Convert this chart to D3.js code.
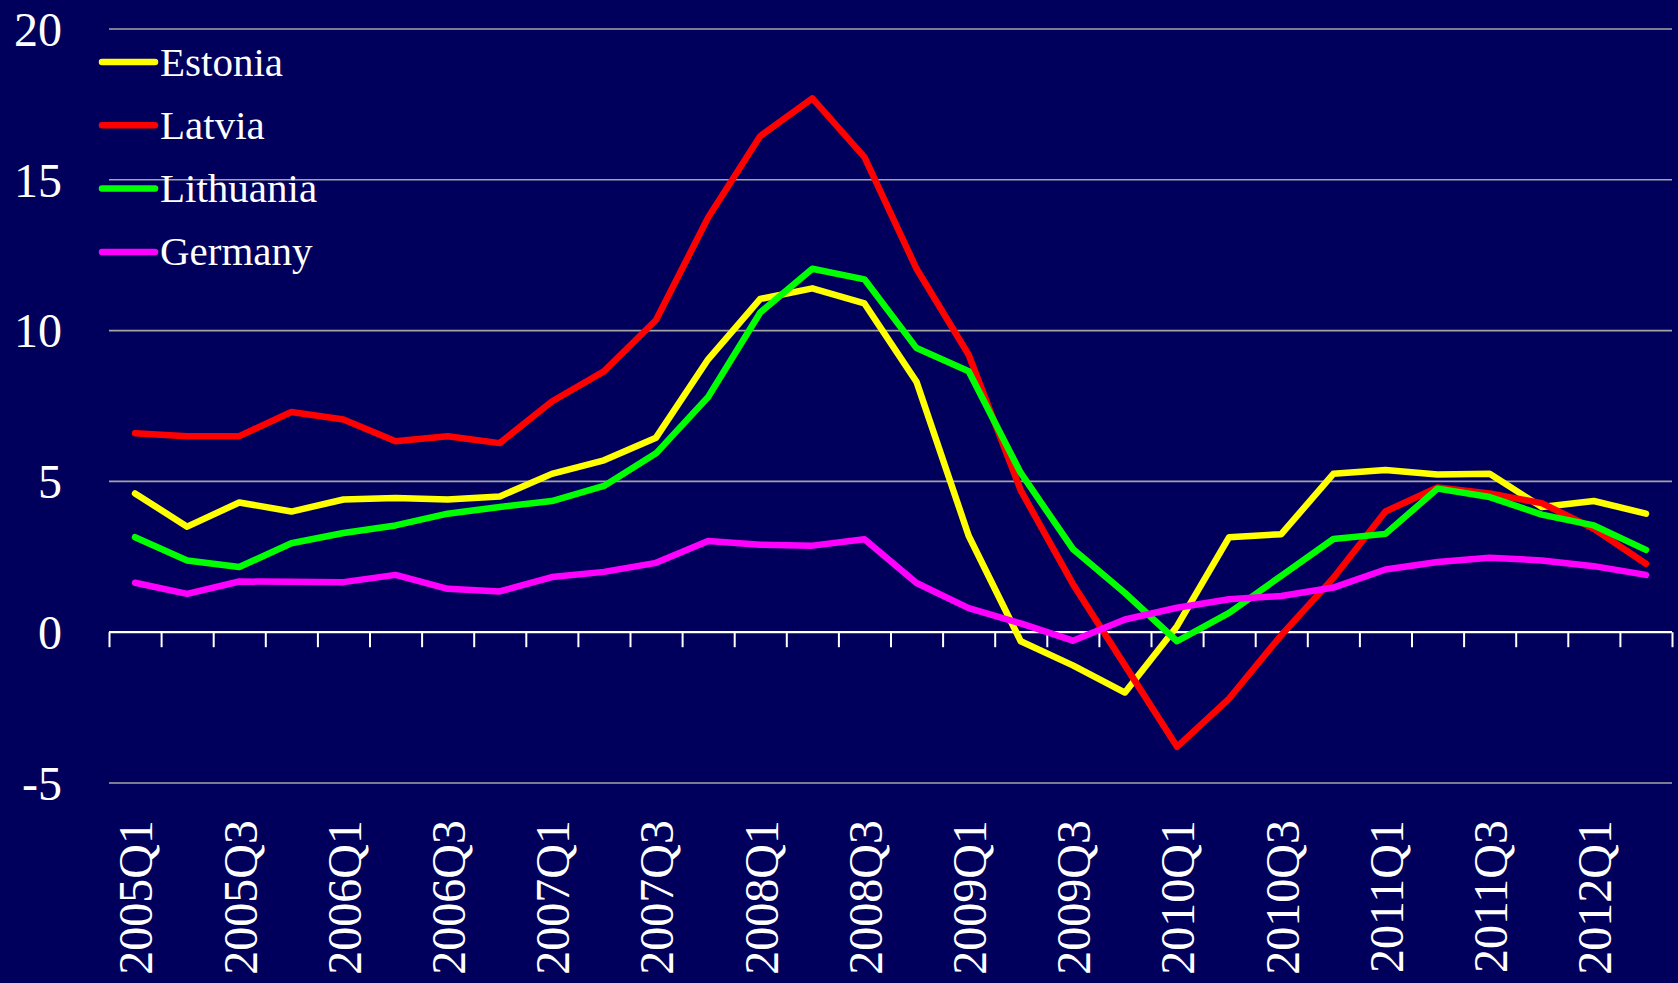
<!DOCTYPE html>
<html>
<head>
<meta charset="utf-8">
<script src="https://cdn.jsdelivr.net/npm/d3@7"></script>
<style>
  html, body { margin: 0; padding: 0; background: #00005c; }
  svg { display: block; }
  text { font-family: "Liberation Serif", "DejaVu Serif", serif; fill: #ffffff; }
</style>
</head>
<body>
<svg id="chart" width="1678" height="983"></svg>
<script>
// Quarterly periods, 2005Q1 – 2012Q2
const quarters = [
  "2005Q1","2005Q2","2005Q3","2005Q4",
  "2006Q1","2006Q2","2006Q3","2006Q4",
  "2007Q1","2007Q2","2007Q3","2007Q4",
  "2008Q1","2008Q2","2008Q3","2008Q4",
  "2009Q1","2009Q2","2009Q3","2009Q4",
  "2010Q1","2010Q2","2010Q3","2010Q4",
  "2011Q1","2011Q2","2011Q3","2011Q4",
  "2012Q1","2012Q2"
];

// Series values
const estonia = [4.6, 3.5, 4.3, 4.0, 4.4, 4.45, 4.4, 4.5, 5.25, 5.7, 6.45, 9.05, 11.05, 11.4, 10.9,
                 8.3, 3.2, -0.3, -1.1, -2.0, 0.2, 3.15, 3.25, 5.25, 5.38, 5.23, 5.25, 4.15, 4.35, 3.93];
const latvia = [6.6, 6.5, 6.5, 7.3, 7.05, 6.33, 6.5, 6.27, 7.65, 8.65, 10.35, 13.75, 16.45, 17.7, 15.75,
                12.05, 9.2, 4.7, 1.6, -1.1, -3.8, -2.2, -0.1, 1.8, 4.0, 4.8, 4.6, 4.28, 3.43, 2.27];
const lithuania = [3.15, 2.38, 2.16, 2.95, 3.29, 3.54, 3.93, 4.15, 4.35, 4.85, 5.93, 7.8, 10.6, 12.05, 11.7,
                   9.42, 8.65, 5.28, 2.76, 1.3, -0.3, 0.64, 1.87, 3.09, 3.26, 4.76, 4.48, 3.9, 3.54, 2.73];
const germany = [1.64, 1.27, 1.68, 1.67, 1.66, 1.9, 1.44, 1.35, 1.83, 2.0, 2.3, 3.02, 2.9, 2.87, 3.08,
                 1.63, 0.8, 0.29, -0.28, 0.42, 0.81, 1.09, 1.2, 1.48, 2.08, 2.33, 2.47, 2.38, 2.19, 1.9];

const seriesNames = ["Estonia", "Latvia", "Lithuania", "Germany"];
const seriesColors = ["#ffff00", "#ff0000", "#00ff00", "#ff00ff"];
const seriesValues = [estonia, latvia, lithuania, germany];

const yTicks = [-5, 0, 5, 10, 15, 20];
const xLabelQuarters = quarters.filter((q, i) => i % 2 === 0);

// Layout
const plotLeft = 109, plotRight = 1672, plotTop = 29, plotBottom = 783;

const svg = d3.select("#chart");
svg.append("rect").attr("width", 1678).attr("height", 983).attr("fill", "#00005c");

const x = d3.scaleBand().domain(quarters).range([plotLeft, plotRight]).padding(0);
const y = d3.scaleLinear().domain([-5, 20]).range([plotBottom, plotTop]);

// Horizontal gridlines (zero line drawn separately as the axis)
svg.append("g")
  .selectAll("line")
  .data(yTicks.filter(v => v !== 0))
  .join("line")
  .attr("x1", plotLeft).attr("x2", plotRight)
  .attr("y1", d => y(d)).attr("y2", d => y(d))
  .attr("stroke", "#a4a4a4").attr("stroke-width", 1.6);

// Y axis labels (plain hyphen for negatives)
const yAxis = d3.axisLeft(y).tickValues(yTicks).tickSize(0).tickPadding(0).tickFormat(d => String(d));
const yG = svg.append("g").attr("transform", "translate(62,0)").call(yAxis);
yG.select(".domain").remove();
yG.selectAll("text")
  .attr("font-family", "Liberation Serif, serif")
  .attr("font-size", 48)
  .attr("fill", "#fff")
  .attr("dy", "0.34em");

// X axis at zero: ticks on quarter boundaries
const xb = d3.scaleLinear().domain([0, quarters.length]).range([plotLeft, plotRight]);
const xTickAxis = d3.axisBottom(xb).tickValues(d3.range(0, quarters.length + 1)).tickSize(15).tickFormat("");
const xG = svg.append("g").attr("transform", `translate(0,${y(0)})`).call(xTickAxis);
xG.select(".domain").attr("stroke", "#fff").attr("stroke-width", 2.2)
  .attr("d", `M${plotLeft},0H${plotRight}`);
xG.selectAll(".tick line").attr("stroke", "#fff").attr("stroke-width", 2);

// X labels, rotated, every second quarter
const xLabelAxis = d3.axisBottom(x).tickValues(xLabelQuarters).tickSize(0).tickPadding(0);
const xl = svg.append("g").attr("transform", "translate(0,820)").call(xLabelAxis);
xl.select(".domain").remove();
xl.selectAll("text")
  .attr("font-family", "Liberation Serif, serif")
  .attr("font-size", 48)
  .attr("fill", "#fff")
  .attr("text-anchor", "end")
  .attr("x", 0).attr("y", 0)
  .attr("dy", "0.36em")
  .attr("transform", "rotate(-90)");

// Lines
const line = d3.line()
  .x((d, i) => x(quarters[i]) + x.bandwidth() / 2)
  .y(d => y(d));

svg.append("g")
  .selectAll("path")
  .data(seriesValues)
  .join("path")
  .attr("d", d => line(d))
  .attr("fill", "none")
  .attr("stroke", (d, i) => seriesColors[i])
  .attr("stroke-width", 6.5)
  .attr("stroke-linecap", "round")
  .attr("stroke-linejoin", "round");

// Legend
const legendY = d3.scaleLinear().domain([0, 1]).range([62, 125.3]);
const legend = svg.append("g")
  .selectAll("g")
  .data(seriesNames)
  .join("g")
  .attr("transform", (d, i) => `translate(0,${legendY(i)})`);
legend.append("line")
  .attr("x1", 102).attr("x2", 155)
  .attr("stroke", (d, i) => seriesColors[i])
  .attr("stroke-width", 6.5)
  .attr("stroke-linecap", "round");
legend.append("text")
  .attr("x", 160)
  .attr("dy", "0.33em")
  .attr("font-size", 41)
  .text(d => d);
</script>
</body>
</html>
